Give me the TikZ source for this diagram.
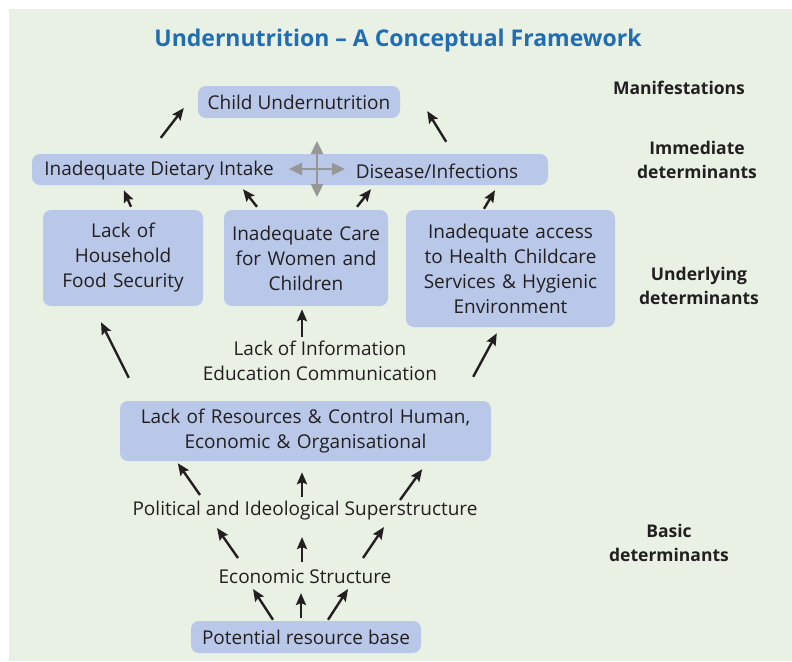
\documentclass[tikz,border=0pt]{standalone}
\usepackage{fontspec}
\setmainfont{Open Sans}
\usepackage{tikz}
\usetikzlibrary{arrows.meta,calc}

\definecolor{bggreen}{HTML}{E8F1E4}
\definecolor{boxblue}{HTML}{B9C8E8}
\definecolor{titleblue}{HTML}{1F6DB5}
\definecolor{ink}{HTML}{231F20}
\definecolor{crossgrey}{HTML}{979797}

\tikzset{
    box/.style={fill=boxblue, rounded corners=8pt, inner sep=2pt, align=center,
                text=ink, font=\fontsize{19}{25}\selectfont},
    plain/.style={align=center, text=ink, font=\fontsize{19}{25}\selectfont},
    level/.style={align=center, text=ink, font=\bfseries\fontsize{17.5}{24}\selectfont},
    arr/.style={-{Stealth[length=12pt,width=10pt,inset=2pt]}, line width=2.4pt, ink},
    cross/.style={{Triangle[length=13pt,width=12pt]}-{Triangle[length=13pt,width=12pt]},
                  line width=2.4pt, crossgrey}
}

\begin{document}
\begin{tikzpicture}[x=1pt, y=-1pt]
    \useasboundingbox (0,0) rectangle (792,661);
    \fill[bggreen] (9,9) rectangle (792,661);

    % title and levels
    \node[text=titleblue, font=\bfseries\fontsize{23}{27}\selectfont] (title) at (398,41)
        {Undernutrition -- A Conceptual Framework};
    \node[level] (manif) at (679,88) {Manifestations};
    \node[level] (immed) at (697,160) {Immediate\\determinants};
    \node[level] (under) at (699,286) {Underlying\\determinants};
    \node[level] (basic) at (669,543) {Basic\\determinants};

    % boxes
    \node[box, minimum width=202pt, minimum height=32pt] (child) at (299,102) {Child Undernutrition};
    \node[box, minimum width=516pt, minimum height=31pt] (bar) at (290,169.5) {};
    \node[plain] (diet) at (159,171) {Inadequate Dietary Intake};
    \node[plain] (disease) at (437,171) {Disease/Infections};
    \coordinate (mid) at (317,169);

    \node[box, minimum width=160pt, minimum height=96pt, text width=156pt] (food) at (123,258)
        {Lack of\\Household\\Food Security};
    \node[box, minimum width=160pt, minimum height=96pt, text width=160pt] (care) at (306,258)
        {Inadequate Care\\for Women and\\Children};
    \node[box, minimum width=207pt, minimum height=117pt, text width=205pt] (access) at (510.5,268.5)
        {Inadequate access\\to Health Childcare\\Services \& Hygienic\\Environment};
    \node[plain] (info) at (320,361) {Lack of Information\\Education Communication};

    \node[box, minimum width=369pt, minimum height=60pt, text width=367pt] (res) at (305.5,431)
        {Lack of Resources \& Control Human,\\Economic \& Organisational};
    \node[plain] (pol) at (305,511) {Political and Ideological Superstructure};
    \node[plain] (econ) at (305,577) {Economic Structure};
    \node[box, minimum width=230pt, minimum height=32pt] (pot) at (306,637) {Potential resource base};

    % cross between intake and disease
    \draw[cross] ($(mid)+(-28,0)$) -- ($(mid)+(28,0)$);
    \draw[cross] ($(mid)+(0,-28)$) -- ($(mid)+(0,28)$);

    % immediate -> manifestation
    \draw[arr] ($(bar.north west)+(129,-16)$) -- ($(child.west)+(-14,6)$);
    \draw[arr] ($(bar.north east)+(-102,-12)$) -- ($(child.east)+(27,9)$);

    % underlying -> immediate
    \draw[arr] ($(food.north)+(8,-3)$) -- ($(bar.south west)+(92,5)$);
    \draw[arr] ($(care.north)+(-49,-3)$) -- ($(bar.south)+(-47,4)$);
    \draw[arr] ($(care.north)+(51,-3)$) -- ($(bar.south)+(81,4)$);
    \draw[arr] ($(access.north)+(-26.5,-1)$) -- ($(bar.south)+(205,5)$);

    % basic -> underlying
    \draw[arr] ($(info)+(-18,-24)$) -- ($(care.south)+(-4,3)$);
    \draw[arr] ($(res.north west)+(9,-23)$) -- ($(food.south)+(-22,16)$);
    \draw[arr] ($(res.north east)+(-18,-24)$) -- ($(access.south west)+(91,6)$);

    % political -> resources
    \draw[arr] ($(pol)+(-105,-16)$) -- ($(res.south west)+(58,2)$);
    \draw[arr] ($(pol)+(-3,-14)$) -- ($(res.south)+(-3.5,11)$);
    \draw[arr] ($(pol)+(95,-11)$) -- ($(res.south east)+(-69,8)$);

    % economic -> political
    \draw[arr] ($(econ)+(-67,-19)$) -- ($(pol)+(-88,17)$);
    \draw[arr] ($(econ)+(-3,-15)$) -- ($(pol)+(-3,26)$);
    \draw[arr] ($(econ)+(58,-19)$) -- ($(pol)+(79,16)$);

    % resource base -> economic
    \draw[arr] ($(pot.north)+(-33,-1)$) -- ($(econ)+(-52,12)$);
    \draw[arr] ($(pot.north)+(-5,-3)$) -- ($(econ)+(-4,16)$);
    \draw[arr] ($(pot.north)+(22,-1)$) -- ($(econ)+(43,12)$);
\end{tikzpicture}
\end{document}
